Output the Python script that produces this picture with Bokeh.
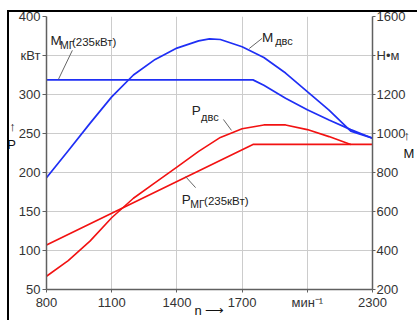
from bokeh.plotting import figure
from bokeh.models import (Range1d, LinearAxis, FixedTicker, Label, Arrow,
                          InlineStyleSheet, GlobalInlineStyleSheet)
from bokeh.embed import file_html
from bokeh.resources import INLINE

# ---- data ----
# engine torque M_двс, N·m (right axis)
n_m_engine = [800, 900, 1000, 1100, 1200, 1300, 1400, 1500, 1550, 1600, 1700, 1800, 1900, 2000, 2100, 2200, 2300]
m_engine = [773, 912, 1052, 1188, 1300, 1380, 1438, 1475, 1485, 1482, 1445, 1390, 1310, 1215, 1120, 1012, 976]
# motor-generator torque M_мг (235 kW), N·m (right axis)
n_m_mg = [800, 1750, 1800, 1900, 2000, 2100, 2200, 2300]
m_mg = [1275, 1275, 1247, 1181, 1122, 1069, 1020, 976]
# engine power P_двс, kW (left axis)
n_p_engine = [800, 900, 1000, 1100, 1200, 1300, 1400, 1500, 1600, 1700, 1800, 1900, 2000, 2100, 2200]
p_engine = [67, 87, 112, 142, 167, 187, 207, 227, 245, 256, 261, 261, 255, 246, 236]
# motor-generator power P_мг (235 kW), kW (left axis)
n_p_mg = [800, 1750, 2300]
p_mg = [107, 236, 236]

x_ticks = [800, 1100, 1400, 1700, 2000, 2300]
x_grid = [1100, 1400, 1700, 2000]
left_ticks = [50, 100, 150, 200, 250, 300, 350, 400]
right_ticks = [200, 400, 600, 800, 1000, 1200, 1400, 1600]

BLUE = "#1f2ff5"
RED = "#f21212"
AX = "#606060"
TXT = "#222222"
FONT = "Liberation Sans"

p = figure(width=417, height=320, x_range=Range1d(800, 2300), y_range=Range1d(50, 400),
           output_backend="svg", toolbar_location=None,
           min_border_left=46, min_border_right=43, min_border_top=16, min_border_bottom=30)
p.extra_y_ranges = {"torque": Range1d(200, 1600)}
p.outline_line_color = None
p.background_fill_color = "white"
p.border_fill_color = "white"
p.stylesheets = [
    GlobalInlineStyleSheet(css="html,body{margin:0 !important;padding:0;overflow:hidden;}"),
    InlineStyleSheet(css=(
        ":host::after{content:'';position:absolute;left:7px;top:10px;width:700px;height:700px;"
        "border:none;border-top:2px solid #000;border-left:2px solid #000;pointer-events:none;"
        "z-index:10;box-sizing:border-box;}"
    )),
]

# grids
p.xgrid.ticker = FixedTicker(ticks=x_grid)
p.ygrid.ticker = FixedTicker(ticks=left_ticks)
p.xgrid.grid_line_color = "#cccccc"
p.ygrid.grid_line_color = "#cccccc"

def style_axis(ax):
    ax.axis_line_color = AX
    ax.axis_line_width = 1.5
    ax.major_tick_line_color = AX
    ax.major_tick_in = 0
    ax.major_tick_out = 4
    ax.minor_tick_line_color = None
    ax.major_label_text_font = FONT
    ax.major_label_text_font_size = "13px"
    ax.major_label_text_color = "#333333"
    ax.axis_label_text_font = FONT
    ax.axis_label_text_font_size = "13px"
    ax.axis_label_text_font_style = "normal"
    ax.axis_label_text_color = "#111111"

bx = p.below[0]
style_axis(bx)
bx.ticker = FixedTicker(ticks=x_ticks)
bx.major_label_overrides = {2000: "мин⁻¹"}
bx.major_tick_out = 3
bx.major_label_standoff = 2
bx.axis_label = "n ⟶"
bx.axis_label_standoff = -10

lx = p.left[0]
style_axis(lx)
lx.ticker = FixedTicker(ticks=left_ticks)
lx.major_label_overrides = {350: "кВт"}
lx.major_label_standoff = 2
lx.axis_label = "↑\nP\n \n "
lx.axis_label_orientation = "horizontal"
lx.axis_label_standoff = 0

rx = LinearAxis(y_range_name="torque")
style_axis(rx)
rx.ticker = FixedTicker(ticks=right_ticks)
rx.major_label_overrides = {1400: "Н•м"}
rx.major_tick_out = 3
rx.major_label_standoff = 1
rx.axis_label = "↑\nM\n "
rx.axis_label_orientation = "horizontal"
rx.axis_label_standoff = -5
p.add_layout(rx, "right")

# curves
p.line(n_m_mg, m_mg, y_range_name="torque", line_color=BLUE, line_width=1.7)
p.line(n_m_engine, m_engine, y_range_name="torque", line_color=BLUE, line_width=1.7)
p.line(n_p_mg, p_mg, line_color=RED, line_width=1.6)
p.line(n_p_engine, p_engine, line_color=RED, line_width=1.6)

def lab(x, y, text, size, align="left", color=TXT):
    p.add_layout(Label(x=x, y=y, text=text, text_font=FONT, text_font_size=size,
                       text_align=align, text_baseline="alphabetic", text_color=color))

def seg(x0, y0, x1, y1, color="#666666", width=1.0):
    p.add_layout(Arrow(x_start=x0, y_start=y0, x_end=x1, y_end=y1, end=None,
                       line_color=color, line_width=width))

# curve labels
lab(818, 369.4, "M", "13.5px")
lab(862, 364, "МГ", "10.5px")
lab(917, 367, "(235кВт)", "11.5px")
seg(919, 356.6, 855, 319.5)

lab(1792, 373, "M", "13.5px")
lab(1852, 369, "двс", "11px")
seg(1792, 372, 1733, 359)

lab(1468, 280, "P", "13.5px")
lab(1511, 271, "двс", "11px")
seg(1614, 268, 1651, 254)

lab(1422, 165, "P", "13.5px")
lab(1461, 160, "МГ", "10.5px")
lab(1525, 164, "(235кВт)", "11.5px")
seg(1486, 180.6, 1440, 194.7)

open("out.html", "w").write(file_html(p, INLINE))
